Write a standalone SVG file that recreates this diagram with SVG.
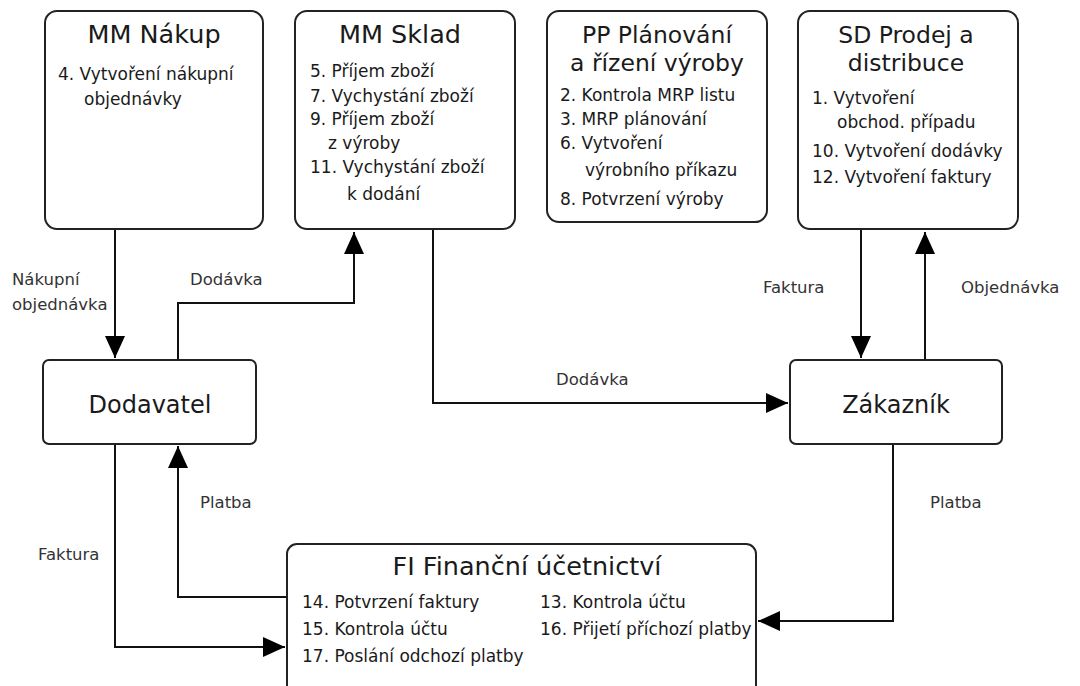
<svg xmlns="http://www.w3.org/2000/svg" width="1080" height="686" viewBox="0 0 1080 686">
<defs>
<style>
.box{fill:#fff;stroke:#222;stroke-width:2}
.t{font-family:"DejaVu Sans",Verdana,sans-serif;fill:#1a1a1a}
.ti{font-size:25.5px;text-anchor:middle}
.ti2{font-size:23.5px;text-anchor:middle}
.en{font-size:24px;text-anchor:middle}
.b{font-size:17px}
.lb{font-family:"DejaVu Sans",Verdana,sans-serif;font-size:16.5px;fill:#333}
.c{fill:none;stroke:#111;stroke-width:2}
</style>
<marker id="a" viewBox="0 0 22 20" refX="22" refY="10" markerWidth="22" markerHeight="20" markerUnits="userSpaceOnUse" orient="auto">
<path d="M0,0 L22,10 L0,20 z" fill="#000"/>
</marker>
</defs>
<rect width="1080" height="686" fill="#fff"/>

<g id="connectors">
<path class="c" d="M115,230 V358" marker-end="url(#a)"/>
<path class="c" d="M178,360 V303 H354 V232" marker-end="url(#a)"/>
<path class="c" d="M433,230 V403 H788" marker-end="url(#a)"/>
<path class="c" d="M861,230 V358" marker-end="url(#a)"/>
<path class="c" d="M925,360 V232" marker-end="url(#a)"/>
<path class="c" d="M287,597 H178 V446" marker-end="url(#a)"/>
<path class="c" d="M115,444 V647 H285" marker-end="url(#a)"/>
<path class="c" d="M893,444 V621 H758" marker-end="url(#a)"/>
<text class="lb" x="12" y="285">Nákupní</text>
<text class="lb" x="12" y="310">objednávka</text>
<text class="lb" x="190" y="285">Dodávka</text>
<text class="lb" x="556" y="385">Dodávka</text>
<text class="lb" x="763" y="293">Faktura</text>
<text class="lb" x="961" y="293">Objednávka</text>
<text class="lb" x="200" y="508">Platba</text>
<text class="lb" x="38" y="560">Faktura</text>
<text class="lb" x="930" y="508">Platba</text>
</g>

<g id="mm-nakup">
<rect class="box" x="45" y="11" width="218" height="218" rx="12"/>
<text class="t ti" x="154" y="43">MM Nákup</text>
<text class="t b" x="58" y="80">4. Vytvoření nákupní</text>
<text class="t b" x="84" y="105">objednávky</text>
</g>

<g id="mm-sklad">
<rect class="box" x="295" y="11" width="220" height="218" rx="12"/>
<text class="t ti" x="400" y="43">MM Sklad</text>
<text class="t b" x="310" y="77">5. Příjem zboží</text>
<text class="t b" x="310" y="102">7. Vychystání zboží</text>
<text class="t b" x="310" y="125">9. Příjem zboží</text>
<text class="t b" x="328" y="149">z výroby</text>
<text class="t b" x="310" y="173">11. Vychystání zboží</text>
<text class="t b" x="347" y="200">k dodání</text>
</g>

<g id="pp">
<rect class="box" x="547" y="11" width="220" height="211" rx="12"/>
<text class="t ti2" x="657" y="43">PP Plánování</text>
<text class="t ti2" x="657" y="71">a řízení výroby</text>
<text class="t b" x="560" y="101">2. Kontrola MRP listu</text>
<text class="t b" x="560" y="125">3. MRP plánování</text>
<text class="t b" x="560" y="149">6. Vytvoření</text>
<text class="t b" x="585" y="176">výrobního příkazu</text>
<text class="t b" x="560" y="205">8. Potvrzení výroby</text>
</g>

<g id="sd">
<rect class="box" x="798" y="11" width="220" height="218" rx="12"/>
<text class="t ti2" x="906" y="43">SD Prodej a</text>
<text class="t ti2" x="906" y="71">distribuce</text>
<text class="t b" x="812" y="104">1. Vytvoření</text>
<text class="t b" x="837" y="128">obchod. případu</text>
<text class="t b" x="812" y="157">10. Vytvoření dodávky</text>
<text class="t b" x="812" y="183">12. Vytvoření faktury</text>
</g>

<g id="dodavatel">
<rect class="box" x="43" y="360" width="213" height="84" rx="6"/>
<text class="t en" x="150" y="413">Dodavatel</text>
</g>

<g id="zakaznik">
<rect class="box" x="790" y="360" width="212" height="84" rx="6"/>
<text class="t en" x="896" y="413">Zákazník</text>
</g>

<g id="fi">
<rect class="box" x="287" y="544" width="469" height="160" rx="10"/>
<text class="t ti" x="527" y="575">FI Finanční účetnictví</text>
<text class="t b" x="302" y="608">14. Potvrzení faktury</text>
<text class="t b" x="302" y="635">15. Kontrola účtu</text>
<text class="t b" x="302" y="662">17. Poslání odchozí platby</text>
<text class="t b" x="540" y="608">13. Kontrola účtu</text>
<text class="t b" x="540" y="635">16. Přijetí příchozí platby</text>
</g>
</svg>
